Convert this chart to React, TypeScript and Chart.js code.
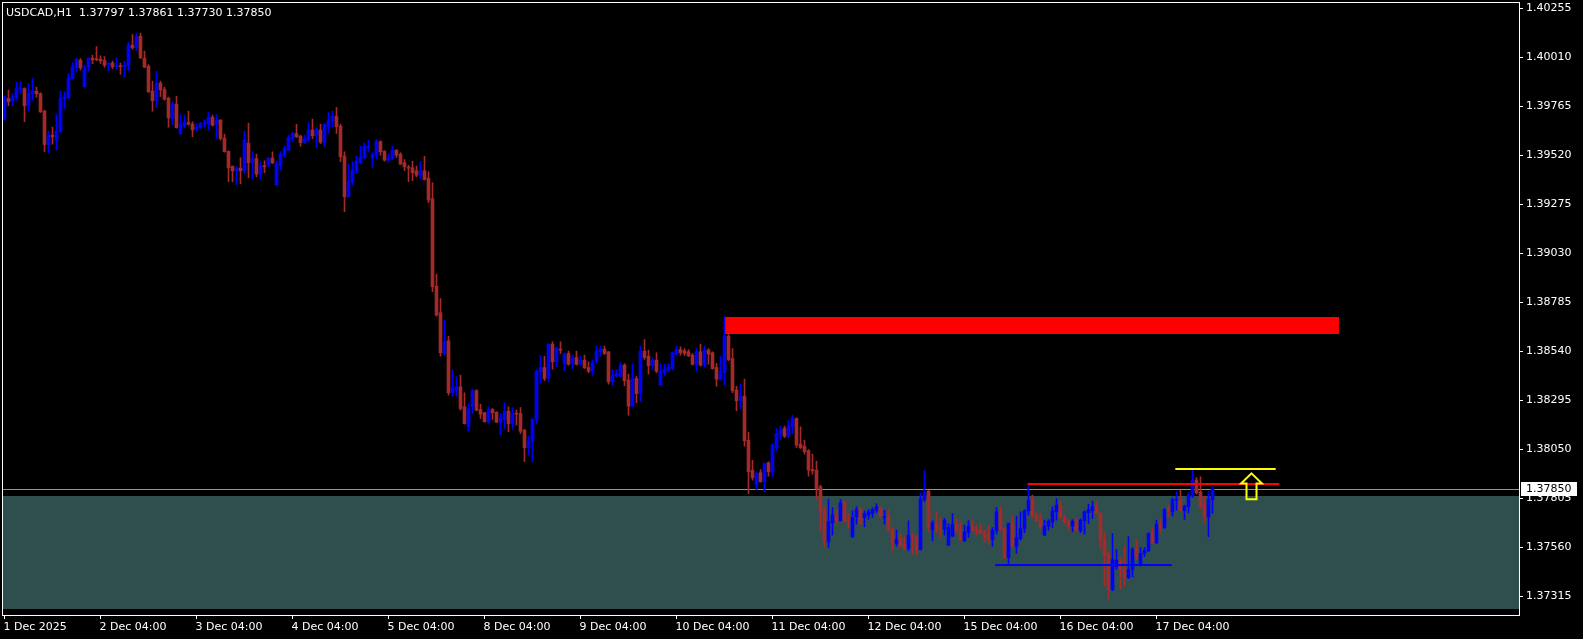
import React, { useEffect, useRef } from "react";
import { Chart, registerables } from "chart.js";

Chart.register(...registerables);

// ---------- DATA ----------
const chartTitle = "USDCAD,H1  1.37797 1.37861 1.37730 1.37850";

const opens = [
  1.39700, 1.39803, 1.39792, 1.39807, 1.39852, 1.39853, 1.39767, 1.39825, 1.39840, 1.39828,
  1.39740, 1.39573, 1.39620, 1.39595, 1.39637, 1.39803, 1.39807, 1.39903, 1.39957, 1.39995,
  1.39862, 1.39962, 1.40005, 1.40002, 1.40000, 1.39993, 1.39973, 1.39980, 1.39962, 1.39967,
  1.39962, 1.39967, 1.40070, 1.40057, 1.40115, 1.40005, 1.39965, 1.39840, 1.39792, 1.39880,
  1.39848, 1.39805, 1.39703, 1.39775, 1.39627, 1.39667, 1.39683, 1.39675, 1.39647, 1.39657,
  1.39677, 1.39675, 1.39710, 1.39673, 1.39695, 1.39605, 1.39540, 1.39465, 1.39442, 1.39455,
  1.39442, 1.39580, 1.39482, 1.39503, 1.39425, 1.39465, 1.39470, 1.39505, 1.39370, 1.39470,
  1.39520, 1.39545, 1.39603, 1.39628, 1.39615, 1.39582, 1.39595, 1.39645, 1.39617, 1.39645,
  1.39585, 1.39662, 1.39692, 1.39715, 1.39665, 1.39515, 1.39312, 1.39387, 1.39442, 1.39482,
  1.39508, 1.39558, 1.39507, 1.39520, 1.39587, 1.39540, 1.39495, 1.39502, 1.39545, 1.39525,
  1.39482, 1.39458, 1.39457, 1.39442, 1.39420, 1.39442, 1.39405, 1.39302, 1.38865, 1.38732,
  1.38528, 1.38592, 1.38332, 1.38345, 1.38362, 1.38262, 1.38162, 1.38262, 1.38342, 1.38248,
  1.38232, 1.38187, 1.38248, 1.38235, 1.38185, 1.38198, 1.38240, 1.38178, 1.38228, 1.38228,
  1.38145, 1.38057, 1.38087, 1.38198, 1.38437, 1.38458, 1.38407, 1.38575, 1.38487, 1.38548,
  1.38478, 1.38528, 1.38475, 1.38508, 1.38475, 1.38495, 1.38458, 1.38440, 1.38487, 1.38537,
  1.38550, 1.38537, 1.38387, 1.38415, 1.38415, 1.38470, 1.38395, 1.38265, 1.38403, 1.38328,
  1.38540, 1.38515, 1.38467, 1.38495, 1.38370, 1.38432, 1.38445, 1.38453, 1.38525, 1.38548,
  1.38542, 1.38537, 1.38520, 1.38475, 1.38537, 1.38470, 1.38545, 1.38532, 1.38458, 1.38400,
  1.38432, 1.38615, 1.38503, 1.38345, 1.38292, 1.38315, 1.38095, 1.37945, 1.37873, 1.37932,
  1.37887, 1.37982, 1.37937, 1.38057, 1.38125, 1.38153, 1.38115, 1.38162, 1.38203, 1.38075,
  1.38065, 1.38042, 1.37948, 1.37945, 1.37862, 1.37742, 1.37587, 1.37682, 1.37720, 1.37692,
  1.37787, 1.37703, 1.37612, 1.37712, 1.37753, 1.37708, 1.37720, 1.37728, 1.37742, 1.37758,
  1.37708, 1.37712, 1.37645, 1.37578, 1.37608, 1.37578, 1.37553, 1.37620, 1.37608, 1.37548,
  1.37798, 1.37840, 1.37648, 1.37678, 1.37653, 1.37648, 1.37570, 1.37615, 1.37675, 1.37648,
  1.37592, 1.37632, 1.37665, 1.37653, 1.37645, 1.37637, 1.37622, 1.37598, 1.37642, 1.37737,
  1.37653, 1.37508, 1.37678, 1.37562, 1.37603, 1.37653, 1.37742, 1.37795, 1.37715, 1.37695,
  1.37620, 1.37665, 1.37687, 1.37737, 1.37770, 1.37708, 1.37690, 1.37665, 1.37695, 1.37642,
  1.37692, 1.37732, 1.37742, 1.37762, 1.37728, 1.37592, 1.37525, 1.37348, 1.37462, 1.37495,
  1.37453, 1.37408, 1.37448, 1.37548, 1.37475, 1.37528, 1.37542, 1.37628, 1.37582, 1.37675,
  1.37658, 1.37748, 1.37737, 1.37795, 1.37798, 1.37742, 1.37762, 1.37815, 1.37895, 1.37837,
  1.37765, 1.37712, 1.37797,
];

const highs = [
  1.39817, 1.39845, 1.39828, 1.39887, 1.39887, 1.39857, 1.39878, 1.39903, 1.39860, 1.39832,
  1.39745, 1.39640, 1.39660, 1.39723, 1.39840, 1.39837, 1.39928, 1.39983, 1.40003, 1.40003,
  1.39970, 1.40007, 1.40020, 1.40063, 1.40017, 1.40013, 1.39983, 1.39990, 1.40007, 1.39980,
  1.39990, 1.40083, 1.40123, 1.40130, 1.40130, 1.40040, 1.39973, 1.39890, 1.39940, 1.39890,
  1.39860, 1.39810, 1.39785, 1.39815, 1.39723, 1.39720, 1.39740, 1.39687, 1.39677, 1.39683,
  1.39695, 1.39733, 1.39720, 1.39723, 1.39698, 1.39625, 1.39540, 1.39465, 1.39462, 1.39507,
  1.39640, 1.39680, 1.39537, 1.39525, 1.39490, 1.39492, 1.39508, 1.39537, 1.39490, 1.39537,
  1.39565, 1.39620, 1.39637, 1.39675, 1.39620, 1.39620, 1.39683, 1.39700, 1.39657, 1.39675,
  1.39678, 1.39733, 1.39740, 1.39758, 1.39675, 1.39537, 1.39475, 1.39487, 1.39515, 1.39565,
  1.39582, 1.39595, 1.39532, 1.39598, 1.39592, 1.39542, 1.39525, 1.39565, 1.39547, 1.39532,
  1.39498, 1.39470, 1.39490, 1.39465, 1.39487, 1.39515, 1.39437, 1.39382, 1.38925, 1.38803,
  1.38695, 1.38615, 1.38448, 1.38412, 1.38420, 1.38332, 1.38275, 1.38348, 1.38348, 1.38275,
  1.38235, 1.38262, 1.38253, 1.38237, 1.38228, 1.38282, 1.38262, 1.38258, 1.38245, 1.38258,
  1.38148, 1.38115, 1.38203, 1.38445, 1.38520, 1.38515, 1.38578, 1.38587, 1.38562, 1.38587,
  1.38532, 1.38540, 1.38520, 1.38540, 1.38515, 1.38520, 1.38487, 1.38495, 1.38565, 1.38565,
  1.38565, 1.38538, 1.38448, 1.38448, 1.38482, 1.38478, 1.38425, 1.38475, 1.38415, 1.38565,
  1.38598, 1.38545, 1.38508, 1.38532, 1.38478, 1.38475, 1.38478, 1.38537, 1.38565, 1.38562,
  1.38553, 1.38548, 1.38528, 1.38553, 1.38575, 1.38565, 1.38553, 1.38537, 1.38478, 1.38515,
  1.38712, 1.38628, 1.38553, 1.38365, 1.38375, 1.38400, 1.38135, 1.37995, 1.37937, 1.37948,
  1.37982, 1.37987, 1.38078, 1.38153, 1.38165, 1.38165, 1.38192, 1.38220, 1.38207, 1.38162,
  1.38095, 1.38048, 1.38025, 1.37990, 1.37870, 1.37762, 1.37800, 1.37758, 1.37745, 1.37798,
  1.37790, 1.37728, 1.37742, 1.37762, 1.37758, 1.37742, 1.37748, 1.37758, 1.37778, 1.37762,
  1.37745, 1.37745, 1.37658, 1.37645, 1.37628, 1.37612, 1.37692, 1.37632, 1.37620, 1.37832,
  1.37942, 1.37845, 1.37692, 1.37737, 1.37708, 1.37703, 1.37678, 1.37728, 1.37703, 1.37687,
  1.37670, 1.37692, 1.37698, 1.37665, 1.37675, 1.37645, 1.37670, 1.37658, 1.37758, 1.37762,
  1.37658, 1.37682, 1.37715, 1.37715, 1.37737, 1.37748, 1.37878, 1.37820, 1.37732, 1.37728,
  1.37695, 1.37698, 1.37762, 1.37803, 1.37790, 1.37720, 1.37698, 1.37698, 1.37703, 1.37703,
  1.37742, 1.37775, 1.37790, 1.37790, 1.37732, 1.37637, 1.37537, 1.37628, 1.37548, 1.37503,
  1.37565, 1.37612, 1.37558, 1.37598, 1.37558, 1.37558, 1.37632, 1.37658, 1.37695, 1.37703,
  1.37753, 1.37770, 1.37808, 1.37837, 1.37845, 1.37770, 1.37832, 1.37945, 1.37908, 1.37912,
  1.37815, 1.37837, 1.37861,
];

const lows = [
  1.39695, 1.39767, 1.39767, 1.39795, 1.39828, 1.39687, 1.39740, 1.39795, 1.39810, 1.39733,
  1.39537, 1.39532, 1.39575, 1.39545, 1.39633, 1.39753, 1.39803, 1.39900, 1.39937, 1.39945,
  1.39860, 1.39940, 1.39977, 1.39992, 1.39978, 1.39960, 1.39943, 1.39953, 1.39950, 1.39925,
  1.39912, 1.39942, 1.40050, 1.40045, 1.40003, 1.39957, 1.39833, 1.39740, 1.39757, 1.39813,
  1.39795, 1.39660, 1.39673, 1.39655, 1.39625, 1.39657, 1.39670, 1.39612, 1.39640, 1.39653,
  1.39662, 1.39645, 1.39665, 1.39603, 1.39595, 1.39535, 1.39387, 1.39387, 1.39373, 1.39377,
  1.39428, 1.39407, 1.39398, 1.39412, 1.39402, 1.39432, 1.39462, 1.39478, 1.39370, 1.39445,
  1.39512, 1.39545, 1.39587, 1.39608, 1.39565, 1.39578, 1.39590, 1.39603, 1.39557, 1.39578,
  1.39565, 1.39628, 1.39662, 1.39628, 1.39487, 1.39237, 1.39310, 1.39370, 1.39432, 1.39478,
  1.39503, 1.39537, 1.39457, 1.39502, 1.39520, 1.39490, 1.39487, 1.39498, 1.39508, 1.39473,
  1.39442, 1.39387, 1.39392, 1.39412, 1.39402, 1.39395, 1.39282, 1.38837, 1.38715, 1.38515,
  1.38520, 1.38320, 1.38315, 1.38315, 1.38245, 1.38175, 1.38140, 1.38228, 1.38242, 1.38203,
  1.38185, 1.38178, 1.38198, 1.38182, 1.38123, 1.38153, 1.38137, 1.38148, 1.38170, 1.38128,
  1.37987, 1.38020, 1.37987, 1.38178, 1.38382, 1.38392, 1.38387, 1.38450, 1.38462, 1.38528,
  1.38442, 1.38470, 1.38453, 1.38470, 1.38470, 1.38453, 1.38432, 1.38420, 1.38478, 1.38515,
  1.38523, 1.38375, 1.38367, 1.38408, 1.38412, 1.38367, 1.38220, 1.38262, 1.38282, 1.38287,
  1.38498, 1.38425, 1.38448, 1.38432, 1.38370, 1.38420, 1.38437, 1.38448, 1.38520, 1.38520,
  1.38517, 1.38512, 1.38470, 1.38442, 1.38465, 1.38462, 1.38475, 1.38450, 1.38365, 1.38395,
  1.38370, 1.38492, 1.38332, 1.38242, 1.38253, 1.38065, 1.37828, 1.37895, 1.37848, 1.37885,
  1.37837, 1.37915, 1.37912, 1.38042, 1.38098, 1.38108, 1.38108, 1.38128, 1.38058, 1.38053,
  1.38025, 1.37915, 1.37925, 1.37798, 1.37642, 1.37562, 1.37558, 1.37620, 1.37675, 1.37690,
  1.37682, 1.37653, 1.37608, 1.37675, 1.37673, 1.37662, 1.37698, 1.37708, 1.37732, 1.37708,
  1.37675, 1.37642, 1.37542, 1.37565, 1.37562, 1.37545, 1.37542, 1.37525, 1.37520, 1.37545,
  1.37787, 1.37637, 1.37592, 1.37632, 1.37608, 1.37620, 1.37568, 1.37612, 1.37628, 1.37592,
  1.37587, 1.37608, 1.37637, 1.37620, 1.37625, 1.37587, 1.37575, 1.37565, 1.37625, 1.37642,
  1.37503, 1.37475, 1.37562, 1.37528, 1.37595, 1.37632, 1.37720, 1.37708, 1.37687, 1.37653,
  1.37618, 1.37645, 1.37658, 1.37695, 1.37703, 1.37675, 1.37645, 1.37637, 1.37637, 1.37632,
  1.37625, 1.37678, 1.37703, 1.37725, 1.37553, 1.37365, 1.37298, 1.37342, 1.37448, 1.37348,
  1.37365, 1.37403, 1.37412, 1.37498, 1.37465, 1.37512, 1.37537, 1.37578, 1.37578, 1.37632,
  1.37653, 1.37712, 1.37715, 1.37745, 1.37737, 1.37698, 1.37732, 1.37808, 1.37825, 1.37753,
  1.37682, 1.37612, 1.37730,
];

const closes = [
  1.39812, 1.39787, 1.39812, 1.39853, 1.39857, 1.39767, 1.39828, 1.39840, 1.39827, 1.39737,
  1.39573, 1.39620, 1.39612, 1.39640, 1.39803, 1.39810, 1.39903, 1.39960, 1.40000, 1.39957,
  1.39962, 1.40003, 1.39997, 1.39997, 1.39992, 1.39970, 1.39980, 1.39963, 1.39970, 1.39962,
  1.39970, 1.40070, 1.40057, 1.40113, 1.40007, 1.39960, 1.39837, 1.39792, 1.39878, 1.39847,
  1.39800, 1.39707, 1.39775, 1.39657, 1.39675, 1.39685, 1.39675, 1.39647, 1.39660, 1.39680,
  1.39680, 1.39710, 1.39670, 1.39695, 1.39603, 1.39537, 1.39457, 1.39442, 1.39455, 1.39442,
  1.39595, 1.39482, 1.39503, 1.39425, 1.39465, 1.39462, 1.39505, 1.39482, 1.39478, 1.39525,
  1.39552, 1.39608, 1.39628, 1.39612, 1.39582, 1.39603, 1.39645, 1.39617, 1.39648, 1.39585,
  1.39673, 1.39692, 1.39715, 1.39662, 1.39512, 1.39312, 1.39390, 1.39445, 1.39490, 1.39508,
  1.39565, 1.39565, 1.39523, 1.39587, 1.39537, 1.39495, 1.39503, 1.39545, 1.39520, 1.39475,
  1.39462, 1.39455, 1.39432, 1.39420, 1.39442, 1.39398, 1.39295, 1.38862, 1.38720, 1.38532,
  1.38587, 1.38332, 1.38357, 1.38362, 1.38253, 1.38178, 1.38253, 1.38342, 1.38245, 1.38225,
  1.38187, 1.38248, 1.38232, 1.38185, 1.38205, 1.38240, 1.38178, 1.38228, 1.38225, 1.38140,
  1.38057, 1.38090, 1.38198, 1.38440, 1.38458, 1.38403, 1.38575, 1.38487, 1.38553, 1.38545,
  1.38525, 1.38475, 1.38508, 1.38475, 1.38495, 1.38457, 1.38440, 1.38483, 1.38540, 1.38550,
  1.38528, 1.38387, 1.38420, 1.38428, 1.38470, 1.38392, 1.38265, 1.38403, 1.38328, 1.38540,
  1.38508, 1.38467, 1.38495, 1.38440, 1.38440, 1.38450, 1.38458, 1.38532, 1.38548, 1.38533,
  1.38528, 1.38517, 1.38475, 1.38537, 1.38470, 1.38545, 1.38525, 1.38453, 1.38400, 1.38437,
  1.38615, 1.38498, 1.38342, 1.38292, 1.38315, 1.38092, 1.37937, 1.37907, 1.37928, 1.37887,
  1.37978, 1.37937, 1.38070, 1.38128, 1.38145, 1.38115, 1.38165, 1.38203, 1.38070, 1.38057,
  1.38037, 1.37945, 1.37942, 1.37853, 1.37737, 1.37587, 1.37687, 1.37720, 1.37692, 1.37782,
  1.37692, 1.37687, 1.37708, 1.37748, 1.37675, 1.37728, 1.37737, 1.37748, 1.37762, 1.37712,
  1.37712, 1.37645, 1.37578, 1.37598, 1.37565, 1.37553, 1.37620, 1.37608, 1.37548, 1.37803,
  1.37832, 1.37653, 1.37682, 1.37648, 1.37648, 1.37695, 1.37658, 1.37675, 1.37642, 1.37595,
  1.37637, 1.37665, 1.37642, 1.37632, 1.37628, 1.37612, 1.37598, 1.37645, 1.37737, 1.37648,
  1.37508, 1.37678, 1.37565, 1.37608, 1.37653, 1.37742, 1.37795, 1.37715, 1.37690, 1.37658,
  1.37665, 1.37690, 1.37742, 1.37770, 1.37708, 1.37687, 1.37665, 1.37690, 1.37642, 1.37695,
  1.37737, 1.37748, 1.37762, 1.37728, 1.37592, 1.37520, 1.37348, 1.37498, 1.37495, 1.37445,
  1.37408, 1.37448, 1.37548, 1.37508, 1.37528, 1.37545, 1.37628, 1.37582, 1.37675, 1.37658,
  1.37748, 1.37737, 1.37798, 1.37798, 1.37742, 1.37765, 1.37820, 1.37895, 1.37832, 1.37762,
  1.37712, 1.37798, 1.37850,
];

const yTickValues = [
  1.40255, 1.4001, 1.39765, 1.3952, 1.39275, 1.3903, 1.38785, 1.3854, 1.38295, 1.3805, 1.37805,
  1.3756, 1.37315,
];
const xTickBars = [0, 24, 48, 72, 96, 120, 144, 168, 192, 216, 240, 264, 288];
const xTickLabels = [
  "1 Dec 2025", "2 Dec 04:00", "3 Dec 04:00", "4 Dec 04:00", "5 Dec 04:00", "8 Dec 04:00",
  "9 Dec 04:00", "10 Dec 04:00", "11 Dec 04:00", "12 Dec 04:00", "15 Dec 04:00",
  "16 Dec 04:00", "17 Dec 04:00",
];

const bidPrice = 1.3785;
// zones and drawn objects (bar index / price)
const supplyZone = { fromBar: 179.8, toBar: 333.55, top: 1.38712, bottom: 1.38625 };
const demandZone = { top: 1.37814, bottom: 1.37252 };
const resistanceLine = { fromBar: 255.8, toBar: 318.7, price: 1.37877 };
const highLine = { fromBar: 292.7, toBar: 317.8, price: 1.37951 };
const supportLine = { fromBar: 247.7, toBar: 291.8, price: 1.37472 };
const upArrow = { bar: 311.7, tip: 1.37929, neck: 1.37878, base: 1.37799 };

// ---------- STYLE ----------
const BULL = "#0000FF";
const BEAR = "#A52A2A";
const FONT = "'DejaVu Sans', Verdana, sans-serif";

const overlayPlugin = {
  id: "mtOverlays",
  beforeDraw(chart: any) {
    const { ctx, width, height } = chart;
    ctx.save();
    ctx.fillStyle = "#000000";
    ctx.fillRect(0, 0, width, height);
    ctx.restore();
  },
  beforeDatasetsDraw(chart: any) {
    const { ctx, chartArea: a, scales } = chart;
    const x = scales.x, y = scales.y;
    ctx.save();
    ctx.beginPath();
    ctx.rect(a.left, a.top, a.right - a.left, a.bottom - a.top);
    ctx.clip();
    // demand zone (full width)
    const dt = y.getPixelForValue(demandZone.top);
    const db = y.getPixelForValue(demandZone.bottom);
    ctx.fillStyle = "#2F4F4F";
    ctx.fillRect(a.left, Math.round(dt), a.right - a.left, Math.round(db) - Math.round(dt));
    // supply zone
    const sl = x.getPixelForValue(supplyZone.fromBar);
    const sr = x.getPixelForValue(supplyZone.toBar);
    const st = y.getPixelForValue(supplyZone.top);
    const sb = y.getPixelForValue(supplyZone.bottom);
    ctx.fillStyle = "#FF0000";
    ctx.fillRect(Math.round(sl), Math.round(st), Math.round(sr - sl), Math.round(sb - st));
    // bid line
    const by = Math.round(y.getPixelForValue(bidPrice)) + 0.5;
    ctx.strokeStyle = "#8C97A3";
    ctx.lineWidth = 1;
    ctx.beginPath();
    ctx.moveTo(a.left, by);
    ctx.lineTo(a.right, by);
    ctx.stroke();
    ctx.restore();
  },
  afterDatasetsDraw(chart: any) {
    const { ctx, chartArea: a, scales } = chart;
    const x = scales.x, y = scales.y;
    ctx.save();
    ctx.beginPath();
    ctx.rect(a.left, a.top, a.right - a.left, a.bottom - a.top);
    ctx.clip();
    const hline = (o: any, color: string) => {
      const py = Math.round(y.getPixelForValue(o.price));
      ctx.strokeStyle = color;
      ctx.lineWidth = 2;
      ctx.beginPath();
      ctx.moveTo(x.getPixelForValue(o.fromBar), py);
      ctx.lineTo(x.getPixelForValue(o.toBar), py);
      ctx.stroke();
    };
    hline(resistanceLine, "#FF0000");
    hline(highLine, "#FFFF00");
    hline(supportLine, "#0000FF");
    // up arrow (hollow)
    const cx = Math.round(x.getPixelForValue(upArrow.bar)) + 0.5;
    const yt = y.getPixelForValue(upArrow.tip);
    const yn = y.getPixelForValue(upArrow.neck);
    const yb = y.getPixelForValue(upArrow.base);
    const hw = 10.5, sw = 5;
    ctx.strokeStyle = "#FFFF00";
    ctx.lineWidth = 2;
    ctx.lineJoin = "miter";
    ctx.beginPath();
    ctx.moveTo(cx, yt);
    ctx.lineTo(cx + hw, yn);
    ctx.lineTo(cx + sw, yn);
    ctx.lineTo(cx + sw, yb);
    ctx.lineTo(cx - sw, yb);
    ctx.lineTo(cx - sw, yn);
    ctx.lineTo(cx - hw, yn);
    ctx.closePath();
    ctx.stroke();
    ctx.restore();
  },
  afterDraw(chart: any) {
    const { ctx, chartArea: a, scales } = chart;
    const y = scales.y;
    ctx.save();
    // frame
    ctx.strokeStyle = "#FFFFFF";
    ctx.lineWidth = 1;
    ctx.strokeRect(a.left - 0.5, a.top - 0.5, a.right - a.left + 1, a.bottom - a.top + 1);
    // bid price label
    const by = Math.round(y.getPixelForValue(bidPrice));
    ctx.fillStyle = "#FFFFFF";
    ctx.fillRect(a.right + 2, by - 7, 56, 14);
    ctx.fillStyle = "#000000";
    ctx.font = "11px " + FONT;
    ctx.textBaseline = "middle";
    ctx.textAlign = "left";
    ctx.fillText(bidPrice.toFixed(5), a.right + 7, by + 0.5);
    ctx.restore();
  },
};

export default function App() {
  const canvasRef = useRef<HTMLCanvasElement | null>(null);

  useEffect(() => {
    document.body.style.margin = "0";
    document.body.style.background = "#000";
    const canvas = canvasRef.current;
    if (!canvas) return;
    const idx = closes.map((_, i) => i);
    const colors = idx.map((i) => (closes[i] >= opens[i] ? BULL : BEAR));

    const chart = new Chart(canvas, {
      type: "bar",
      data: {
        datasets: [
          {
            label: "wicks",
            data: idx.map((i) => ({ x: i, y: [lows[i], highs[i]] })) as any,
            backgroundColor: colors,
            barThickness: 1,
            borderWidth: 0,
            minBarLength: 1,
            grouped: false,
          } as any,
          {
            label: "bodies",
            data: idx.map((i) => ({ x: i, y: [opens[i], closes[i]] })) as any,
            backgroundColor: colors,
            barThickness: 3,
            borderWidth: 0,
            minBarLength: 1,
            grouped: false,
          } as any,
        ],
      },
      options: {
        responsive: false,
        animation: false,
        events: [],
        layout: { padding: { left: 3, top: 3, right: 0, bottom: 0 } },
        plugins: {
          legend: { display: false },
          tooltip: { enabled: false },
          title: { display: false },
        },
        scales: {
          x: {
            type: "linear",
            min: -0.375,
            max: 378.625,
            offset: false,
            position: "bottom",
            grid: {
              offset: false,
              drawOnChartArea: false,
              drawTicks: true,
              tickLength: 4,
              color: "#FFFFFF",
              lineWidth: 1,
            },
            border: { display: false },
            ticks: {
              autoSkip: false,
              maxRotation: 0,
              minRotation: 0,
              align: "start",
              padding: 2,
              labelOffset: -1,
              color: "#FFFFFF",
              font: { family: FONT, size: 11 },
              callback: (_v: any, i: number) => xTickLabels[i] ?? "",
            },
            afterBuildTicks: (scale: any) => {
              scale.ticks = xTickBars.map((v) => ({ value: v }));
            },
            afterFit: (scale: any) => {
              scale.height = 24;
              scale.paddingLeft = 0;
              scale.paddingRight = 0;
            },
          } as any,
          y: {
            type: "linear",
            position: "right",
            min: 1.372208,
            max: 1.402808,
            grid: {
              drawOnChartArea: false,
              drawTicks: true,
              tickLength: 4,
              color: "#FFFFFF",
              lineWidth: 1,
            },
            border: { display: false },
            ticks: {
              autoSkip: false,
              padding: 3,
              color: "#FFFFFF",
              font: { family: FONT, size: 11 },
              callback: (v: any) => Number(v).toFixed(5),
            },
            afterBuildTicks: (scale: any) => {
              scale.ticks = yTickValues.map((v) => ({ value: v }));
            },
            afterFit: (scale: any) => {
              scale.width = 64;
              scale.paddingTop = 0;
              scale.paddingBottom = 0;
            },
          } as any,
        },
      },
      plugins: [overlayPlugin],
    });

    return () => chart.destroy();
  }, []);

  return (
    <div
      style={{
        position: "fixed",
        left: 0,
        top: 0,
        width: 1583,
        height: 639,
        background: "#000",
        overflow: "hidden",
      }}
    >
      <canvas
        ref={canvasRef}
        width={1583}
        height={639}
        style={{ display: "block", width: 1583, height: 639 }}
      />
      <div
        style={{
          position: "absolute",
          left: 6,
          top: 6,
          color: "#FFFFFF",
          font: "11px " + FONT,
          whiteSpace: "pre",
          lineHeight: "13px",
        }}
      >
        {chartTitle}
      </div>
    </div>
  );
}
